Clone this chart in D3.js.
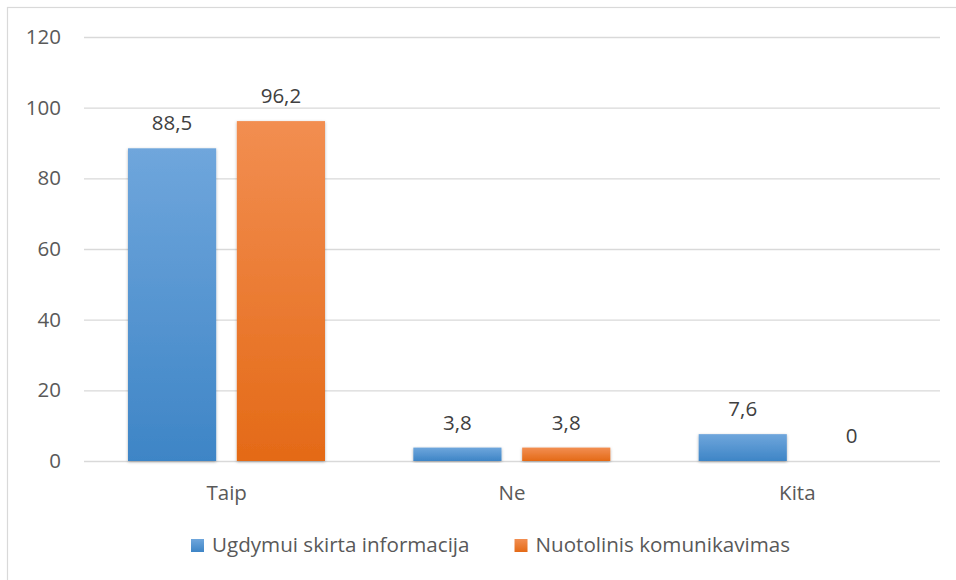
<!DOCTYPE html>
<html>
<head>
<meta charset="utf-8">
<script src="https://cdn.jsdelivr.net/npm/d3@7"></script>
<style>
  html, body { margin: 0; padding: 0; background: #fff; }
  svg { display: block; }
  text { font-family: "Open Sans", Lato, sans-serif; fill: #595959; }
</style>
</head>
<body>
<svg id="chart" width="956" height="580"></svg>
<script>
// Survey answers per category
const categories = ["Taip", "Ne", "Kita"];
const seriesNames = ["Ugdymui skirta informacija", "Nuotolinis komunikavimas"];
const infoValues = [88.5, 3.8, 7.6];
const remoteValues = [96.2, 3.8, 0];
const yTicks = [0, 20, 40, 60, 80, 100, 120];

const svg = d3.select("#chart");
const W = 956, H = 580;
const plot = { left: 84, right: 940, top: 37, bottom: 461 };
const FONT = "20.5px";
const LEGEND_FONT = "20.6px";

// chart frame
svg.append("rect")
  .attr("x", 7.5).attr("y", 7.5)
  .attr("width", W + 10).attr("height", H + 10)
  .attr("fill", "#fff").attr("stroke", "#d9d9d9").attr("stroke-width", 1.2);

const defs = svg.append("defs");
function grad(id, top, bottom) {
  const g = defs.append("linearGradient").attr("id", id)
    .attr("x1", 0).attr("y1", 0).attr("x2", 0).attr("y2", 1);
  g.append("stop").attr("offset", "0%").attr("stop-color", top);
  g.append("stop").attr("offset", "100%").attr("stop-color", bottom);
}
grad("gBlue", "#6fa6dc", "#3e85c6");
grad("gOrange", "#f28e51", "#e46a17");
const shadow = defs.append("filter").attr("id", "shadow")
  .attr("x", "-10%").attr("y", "-10%").attr("width", "120%").attr("height", "120%");
shadow.append("feDropShadow").attr("dx", 0).attr("dy", 1)
  .attr("stdDeviation", 1.5).attr("flood-color", "#000").attr("flood-opacity", 0.3);

const y = d3.scaleLinear().domain([0, 120]).range([plot.bottom, plot.top]);
const x0 = d3.scaleBand().domain(categories).range([plot.left, plot.right]).padding(0);
const x1 = d3.scaleBand().domain(seriesNames).range([44, 241]).paddingInner(0.19).paddingOuter(0);

// gridlines and value ticks
const yAxis = d3.axisLeft(y).tickValues(yTicks).tickSize(-(plot.right - plot.left)).tickPadding(23);
const ga = svg.append("g").attr("transform", `translate(${plot.left},0)`).call(yAxis);
ga.select(".domain").remove();
ga.selectAll(".tick line").attr("stroke", "#d9d9d9").attr("stroke-width", 1.3);
ga.selectAll(".tick text").style("font-size", FONT).attr("fill", "#595959")
  .style("font-family", "'Open Sans', Lato, sans-serif");

// category labels
const xAxis = d3.axisBottom(x0).tickSize(0).tickPadding(24);
const gx = svg.append("g").attr("transform", `translate(0,${plot.bottom})`).call(xAxis);
gx.select(".domain").remove();
gx.selectAll(".tick text").style("font-size", FONT).attr("fill", "#595959")
  .style("font-family", "'Open Sans', Lato, sans-serif");

const rows = categories.map((c, i) => ({ cat: c, vals: [infoValues[i], remoteValues[i]] }));
const fills = ["url(#gBlue)", "url(#gOrange)"];

const groups = svg.append("g").selectAll("g").data(rows).join("g")
  .attr("transform", d => `translate(${x0(d.cat)},0)`);

groups.selectAll("rect").data(d => d.vals.map((v, j) => ({ v, j }))).join("rect")
  .filter(d => d.v > 0)
  .attr("x", d => x1(seriesNames[d.j]))
  .attr("width", x1.bandwidth())
  .attr("y", d => y(d.v))
  .attr("height", d => y(0) - y(d.v))
  .attr("fill", d => fills[d.j])
  .attr("filter", "url(#shadow)");

groups.selectAll("text.val").data(d => d.vals.map((v, j) => ({ v, j }))).join("text")
  .attr("class", "val")
  .attr("x", d => x1(seriesNames[d.j]) + x1.bandwidth() / 2)
  .attr("y", d => y(d.v) - 18)
  .attr("text-anchor", "middle")
  .style("font-size", FONT)
  .style("fill", "#404040")
  .text(d => String(d.v).replace(".", ","));

// legend
const legend = svg.append("g");
let lx = 191;
seriesNames.forEach((name, i) => {
  legend.append("rect").attr("x", lx).attr("y", 539).attr("width", 13).attr("height", 13)
    .attr("fill", fills[i]);
  const t = legend.append("text").attr("x", lx + 21).attr("y", 552)
    .style("font-size", LEGEND_FONT).text(name);
  lx += 21 + t.node().getComputedTextLength() + 45;
});
</script>
</body>
</html>
